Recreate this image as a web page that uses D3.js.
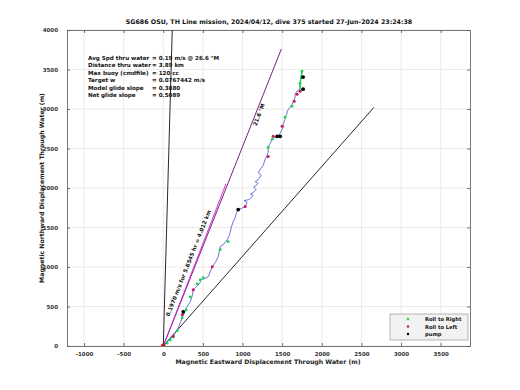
<!DOCTYPE html>
<html>
<head>
<meta charset="utf-8">
<script src="https://cdn.jsdelivr.net/npm/d3@7"></script>
<style>
  body { margin: 0; background: #fff; }
  text { font-family: "DejaVu Sans", sans-serif; font-weight: bold; }
</style>
</head>
<body>
<div id="staticBody"></div>
<script>
var titleText = "SG686 OSU, TH Line mission, 2024/04/12, dive 375 started 27-Jun-2024 23:24:38";
var xTicks = [-1000, -500, 0, 500, 1000, 1500, 2000, 2500, 3000, 3500];
var yTicks = [0, 500, 1000, 1500, 2000, 2500, 3000, 3500, 4000];

// track through water (m east, m north)
var track = [
  [0, 0], [38, 38], [63, 76], [113, 114], [151, 165], [170, 200], [189, 229], [214, 292],
  [239, 368], [265, 419], [290, 483], [315, 521], [340, 559], [365, 635], [378, 711],
  [416, 749], [466, 800], [466, 838], [517, 851], [567, 876], [592, 940], [617, 1003],
  [655, 1054], [693, 1130], [706, 1194], [718, 1257], [769, 1295], [806, 1346],
  [832, 1397], [844, 1435], [857, 1499], [882, 1575], [907, 1626], [920, 1676],
  [945, 1727], [983, 1740], [1033, 1765], [1058, 1816], [1020, 1840], [1084, 1854],
  [1134, 1905], [1100, 1925], [1134, 1943], [1172, 1981], [1140, 2010], [1197, 2057],
  [1160, 2080], [1197, 2108], [1235, 2159], [1200, 2190], [1222, 2235], [1260, 2286],
  [1285, 2362], [1310, 2413], [1323, 2451], [1323, 2515], [1348, 2565], [1373, 2616],
  [1411, 2642], [1436, 2654], [1474, 2692], [1512, 2769], [1512, 2807], [1537, 2870],
  [1537, 2896], [1562, 2946], [1562, 2972], [1600, 3023], [1625, 3061], [1651, 3099],
  [1663, 3150], [1663, 3188], [1688, 3226], [1726, 3251], [1726, 3327], [1739, 3404],
  [1751, 3480]
];
var rollRight = [
  [50, 38], [88, 76], [126, 114], [176, 191], [239, 356], [290, 457], [340, 622],
  [428, 787], [466, 838], [504, 864], [718, 1219], [819, 1321], [1323, 2515],
  [1373, 2616], [1537, 2896], [1625, 3035], [1726, 3327], [1751, 3480]
];
var rollLeft = [
  [126, 127], [239, 394], [378, 711], [617, 1003], [1033, 1765], [1323, 2400],
  [1386, 2654], [1499, 2781], [1651, 3099], [1688, 3188], [1726, 3226]
];
var pump = [
  [252, 432], [945, 1727], [1436, 2654], [1474, 2654], [1764, 3404], [1764, 3251]
];

// reference lines from the dive start
var headingEnd = [1490, 3760];
var speedEnd = [790, 2050];
var leftEdgeEnd = [113, 4000];
var rightEdgeEnd = [2657, 3020];

var infoLines = [
  ["Avg Spd thru water", "=  0.19 m/s @  26.6 \u00B0M"],
  ["Distance thru water", "=  3.89 km"],
  ["Max buoy (cmdfile)", "= 120 cc"],
  ["Target w", "= 0.0767442 m/s"],
  ["Model glide slope", "= 0.3880"],
  ["Net glide slope", "= 0.5089"]
];
var legendItems = [
  { name: "Roll to Right", color: "#19d44a" },
  { name: "Roll to Left", color: "#c8175a" },
  { name: "pump", color: "#000" }
];

var width = 520, height = 390;
var svg = d3.select("#staticBody").append("svg")
  .attr("width", width).attr("height", height);

var x = d3.scaleLinear().domain([-1215, 3870]).range([67, 470]);
var y = d3.scaleLinear().domain([0, 4000]).range([346, 30]);
var tickFmt = function(d) { return String(d); };

svg.append("defs").append("clipPath").attr("id", "plotClip")
  .append("rect").attr("x", 67).attr("y", 30).attr("width", 403).attr("height", 316);

// grid
svg.selectAll(".gx").data(xTicks).enter().append("line")
  .attr("x1", function(d) { return x(d); }).attr("x2", function(d) { return x(d); })
  .attr("y1", 30).attr("y2", 346)
  .attr("stroke", "#e3e3e3").attr("stroke-width", 0.7);
svg.selectAll(".gy").data(yTicks).enter().append("line")
  .attr("y1", function(d) { return y(d); }).attr("y2", function(d) { return y(d); })
  .attr("x1", 67).attr("x2", 470)
  .attr("stroke", "#e3e3e3").attr("stroke-width", 0.7);

// axes
var xAxis = svg.append("g").attr("transform", "translate(0,346)")
  .call(d3.axisBottom(x).tickValues(xTicks).tickFormat(tickFmt)
    .tickSizeInner(-3).tickSizeOuter(0).tickPadding(6));
var xTop = svg.append("g").attr("transform", "translate(0,30)")
  .call(d3.axisTop(x).tickValues(xTicks).tickSizeInner(-3).tickSizeOuter(0).tickFormat(""));
var yAxis = svg.append("g").attr("transform", "translate(67,0)")
  .call(d3.axisLeft(y).tickValues(yTicks).tickFormat(tickFmt)
    .tickSizeInner(-3).tickSizeOuter(0).tickPadding(9));
var yRight = svg.append("g").attr("transform", "translate(470,0)")
  .call(d3.axisRight(y).tickValues(yTicks).tickSizeInner(-3).tickSizeOuter(0).tickFormat(""));
[xAxis, xTop, yAxis, yRight].forEach(function(g) {
  g.selectAll("path").attr("stroke", "#555").attr("stroke-width", 0.8);
  g.selectAll("line").attr("stroke", "#555").attr("stroke-width", 0.8);
  g.selectAll("text").attr("font-size", 5.5).attr("fill", "#333")
    .attr("font-family", "DejaVu Sans").attr("font-weight", "bold");
});

var plot = svg.append("g").attr("clip-path", "url(#plotClip)");

function refLine(end, color, w) {
  plot.append("line")
    .attr("x1", x(0)).attr("y1", y(0))
    .attr("x2", x(end[0])).attr("y2", y(end[1]))
    .attr("stroke", color).attr("stroke-width", w);
}
refLine(leftEdgeEnd, "#111", 0.9);
refLine(rightEdgeEnd, "#111", 0.9);
refLine(headingEnd, "#7b1f86", 1);
refLine(speedEnd, "#d21fc8", 0.9);

var trackLine = d3.line()
  .x(function(d) { return x(d[0]); })
  .y(function(d) { return y(d[1]); });
plot.append("path").datum(track)
  .attr("d", trackLine)
  .attr("fill", "none").attr("stroke", "#5364d8").attr("stroke-width", 0.9);
plot.append("path").datum(track.slice(-4))
  .attr("d", trackLine)
  .attr("fill", "none").attr("stroke", "#19d44a").attr("stroke-width", 1.4);

function dots(data, color, r) {
  plot.selectAll(null).data(data).enter().append("circle")
    .attr("cx", function(d) { return x(d[0]); })
    .attr("cy", function(d) { return y(d[1]); })
    .attr("r", r).attr("fill", color);
}
dots(rollRight, "#19d44a", 1.4);
dots(rollLeft, "#c8175a", 1.5);
dots(pump, "#000", 1.9);
dots([[0, 0]], "#c8102e", 2.4);

// line labels
var angH = Math.atan2(headingEnd[0], headingEnd[1]) * 180 / Math.PI;
svg.append("text")
  .attr("transform", "translate(" + x(1230) + "," + y(2920) + ") rotate(" + (angH - 90) + ")")
  .attr("font-size", 5.5).attr("fill", "#111").attr("text-anchor", "middle")
  .text("21.6 \u00B0M");
svg.append("text")
  .attr("transform", "translate(" + x(340) + "," + y(1040) + ") rotate(" + (angH - 90) + ")")
  .attr("font-size", 5.5).attr("fill", "#111").attr("text-anchor", "middle")
  .text("0.1970 m/s for 5.6545 hr = 4.012 km");

// info block
var info = svg.append("g").attr("font-size", 5.6).attr("fill", "#111");
infoLines.forEach(function(row, i) {
  info.append("text").attr("x", 88).attr("y", 60 + i * 7.4).text(row[0]);
  info.append("text").attr("x", 152).attr("y", 60 + i * 7.4).text(row[1]);
});

// title and axis labels
svg.append("text").attr("x", 269).attr("y", 24).attr("text-anchor", "middle")
  .attr("font-size", 6.3).attr("fill", "#111").text(titleText);
svg.append("text").attr("x", 268).attr("y", 364).attr("text-anchor", "middle")
  .attr("font-size", 6.2).attr("fill", "#222").text("Magnetic Eastward Displacement Through Water (m)");
svg.append("text").attr("transform", "translate(44,188) rotate(-90)").attr("text-anchor", "middle")
  .attr("font-size", 6.2).attr("fill", "#222").text("Magnetic Northward Displacement Through Water (m)");

// legend
var leg = svg.append("g").attr("transform", "translate(390,314)");
leg.append("rect").attr("width", 78).attr("height", 26)
  .attr("fill", "#f2f2f2").attr("stroke", "#999").attr("stroke-width", 0.7);
legendItems.forEach(function(d, i) {
  leg.append("circle").attr("cx", 18).attr("cy", 5 + i * 7.5).attr("r", 1.2).attr("fill", d.color);
  leg.append("text").attr("x", 35).attr("y", 7 + i * 7.5)
    .attr("font-size", 5.2).attr("fill", "#111").text(d.name);
});
</script>
</body>
</html>
